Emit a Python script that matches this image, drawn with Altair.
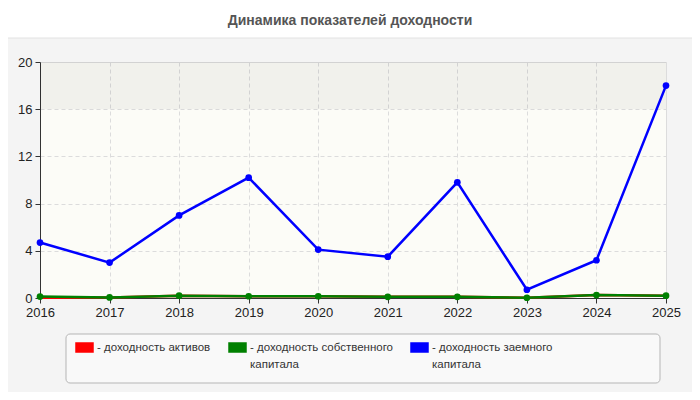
import pandas as pd
import altair as alt

# data
years = [2016, 2017, 2018, 2019, 2020, 2021, 2022, 2023, 2024, 2025]
roa = [0.02, 0.05, 0.2, 0.15, 0.15, 0.1, 0.1, 0.02, 0.25, 0.2]   # доходность активов
roe = [0.12, 0.05, 0.2, 0.15, 0.15, 0.1, 0.1, 0.02, 0.25, 0.2]   # доходность собственного капитала
rod = [4.7, 3.0, 7.0, 10.2, 4.1, 3.5, 9.8, 0.7, 3.2, 18.0]       # доходность заемного капитала

series_names = ['доходность активов',
                'доходность собственного капитала',
                'доходность заемного капитала']
series_colors = ['#ff0000', '#008000', '#0000ff']
y_ticks = [0, 4, 8, 12, 16, 20]
title_text = 'Динамика показателей доходности'

df = pd.concat([
    pd.DataFrame({'year': years, 'value': vals, 'series': name})
    for name, vals in zip(series_names, [roa, roe, rod])
], ignore_index=True)

W, H = 626, 236
color_scale = alt.Scale(domain=series_names, range=series_colors)

# labels padded to 2 lines so all entries have the same height,
# second line indented under the text (past the "- ")
legend = alt.Legend(
    title=None, orient='none', legendX=35, legendY=276,
    direction='horizontal', columns=3, columnPadding=13,
    padding=0, labelOffset=3,
    symbolType='M-1,-0.5H1V0.5H-1Z', symbolSize=256,
    symbolStrokeColor='#999', symbolStrokeWidth=1, symbolOpacity=1,
    labelFont='Liberation Sans', labelFontSize=11.5,
    labelColor='#333', labelBaseline='middle', labelLimit=300,
    labelExpr="datum.label == 'доходность активов' ? ['- доходность активов', ''] : "
              "datum.label == 'доходность собственного капитала' ? ['- доходность собственного', '\u00a0\u00a0капитала'] : "
              "['- доходность заемного', '\u00a0\u00a0капитала']")

x = alt.X('year:Q', scale=alt.Scale(domain=[years[0], years[-1]], nice=False, zero=False),
          axis=alt.Axis(title=None, values=years, format='d', labelFlush=False,
                        grid=True, gridDash=[4, 3], gridColor='#dcdcdc',
                        domainColor='#333', tickColor='#333', tickSize=5,
                        labelFontSize=13, labelColor='#222', labelPadding=3))
y = alt.Y('value:Q', scale=alt.Scale(domain=[0, 20], nice=False),
          axis=alt.Axis(title=None, values=y_ticks,
                        grid=True, gridDash=[4, 3], gridColor='#dcdcdc',
                        domainColor='#333', tickColor='#333', tickSize=5,
                        labelFontSize=13, labelColor='#222', labelPadding=3))

base = alt.Chart(df)
deco = alt.Chart(pd.DataFrame({'n': [0]}))  # one row, for single decoration marks

# white title strip above the grey panel
top_strip = deco.mark_rect(fill='white').encode(
    x=alt.value(-40), x2=alt.value(660), y=alt.value(-62), y2=alt.value(-24))
strip_line = deco.mark_rule(color='#e2e2e2').encode(
    x=alt.value(-40), x2=alt.value(660), y=alt.value(-24))
title = deco.mark_text(font='Liberation Sans', fontSize=14, fontWeight='bold',
                       color='#555', align='center', baseline='alphabetic').encode(
    x=alt.value(310), y=alt.value(-37), text=alt.value(title_text))

legend_box = deco.mark_rect(fill='#f9f9f9', stroke='#b5b5b5', cornerRadius=4).encode(
    x=alt.value(26), x2=alt.value(620), y=alt.value(272), y2=alt.value(321))

# grey top band of the plot area
top_band = deco.mark_rect(fill='#000000', opacity=0.045).encode(
    x=alt.value(0), x2=alt.value(W), y=alt.datum(16), y2=alt.datum(20))

lines = base.mark_line(interpolate='linear').encode(
    x=x, y=y,
    color=alt.Color('series:N', scale=color_scale, legend=legend),
    strokeWidth=alt.StrokeWidth('series:N', scale=alt.Scale(domain=series_names, range=[2.5, 2.5, 1.3]),
                                legend=None))

dots = base.mark_circle(size=45, opacity=1).encode(
    x='year:Q', y='value:Q',
    color=alt.Color('series:N', scale=color_scale, legend=legend)
).transform_filter(alt.datum.series != series_names[0])

chart = alt.layer(top_strip, strip_line, title, legend_box, top_band, lines, dots).properties(
    width=W, height=H,
    background='#f4f4f4',
    autosize=alt.AutoSizeParams(type='none'),
    padding={'left': 32, 'top': 54, 'right': 26, 'bottom': 94},
).configure(
    font='Liberation Sans',
    style={'guide-label': {'lineHeight': 17}}
).configure_view(
    fill='#fcfcf7', stroke='#dcdcdc'
)

chart.save("out.html", embed_options={"renderer": "svg", "actions": False})
